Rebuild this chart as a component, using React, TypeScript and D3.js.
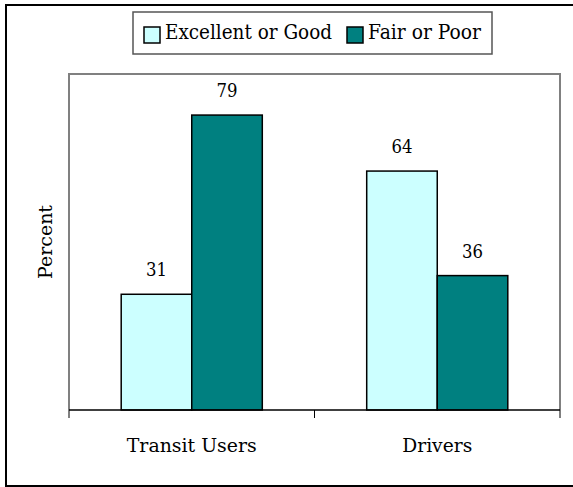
import React from "react";
import * as d3 from "d3";

const categories = ["Transit Users", "Drivers"];
const seriesNames = ["Excellent or Good", "Fair or Poor"];
const excellentOrGood = [31, 64];
const fairOrPoor = [79, 36];
const yDomain = [0, 90];

const W = 573;
const H = 487;
const plot = { left: 69, right: 560, top: 74, bottom: 410 };
const colors = ["#CCFFFF", "#008080"];
const serif = "DejaVu Serif, serif";
const categoryLabelWidths = [130, 70];
const legendTextWidths = [167, 113];

export default function App() {
  const x0 = d3
    .scaleBand<string>()
    .domain(categories)
    .range([plot.left, plot.right])
    .paddingInner(0)
    .paddingOuter(0);
  const inner = d3
    .scaleBand<string>()
    .domain(seriesNames)
    .range([0, x0.bandwidth()])
    .paddingInner(0)
    .paddingOuter(0.74);
  const y = d3.scaleLinear().domain(yDomain).range([plot.bottom, plot.top]);
  const values = [excellentOrGood, fairOrPoor];

  const tickXs = [plot.left, ...categories.map((c) => (x0(c) as number) + x0.bandwidth())];

  return (
    <div style={{ position: "absolute", left: 0, top: 0, overflow: "hidden", width: W, height: H }}>
      <svg width={W} height={H} style={{ display: "block" }}>
        <rect x={0} y={0} width={W} height={H} fill="#fff" />
        {/* outer frame */}
        <path d={`M6,${H + 2} L6,5 L${W + 2},5`} fill="none" stroke="#000" strokeWidth={2} />
        <line x1={6} y1={486} x2={W} y2={486} stroke="#000" strokeWidth={2} />
        {/* plot area border */}
        <path
          d={`M${plot.left},${plot.bottom} L${plot.left},${plot.top} L${plot.right},${plot.top} L${plot.right},${plot.bottom}`}
          fill="none"
          stroke="#808080"
          strokeWidth={2}
        />
        {/* bars and value labels */}
        {categories.map((c, ci) =>
          seriesNames.map((s, si) => {
            const v = values[si][ci];
            const bx = (x0(c) as number) + (inner(s) as number);
            return (
              <g key={c + s}>
                <rect
                  x={bx}
                  y={y(v)}
                  width={inner.bandwidth()}
                  height={plot.bottom - y(v)}
                  fill={colors[si]}
                  stroke="#000"
                  strokeWidth={1.5}
                />
                <text
                  x={bx + inner.bandwidth() / 2}
                  y={y(v) - 18}
                  textAnchor="middle"
                  fontFamily={serif}
                  fontSize={19}
                  textLength={21}
                  lengthAdjust="spacingAndGlyphs"
                  fill="#000"
                >
                  {v}
                </text>
              </g>
            );
          })
        )}
        {/* x axis */}
        <line x1={plot.left} y1={plot.bottom} x2={plot.right} y2={plot.bottom} stroke="#000" strokeWidth={1.5} />
        {tickXs.map((tx, i) => (
          <line key={i} x1={tx} y1={plot.bottom} x2={tx} y2={plot.bottom + 8} stroke="#000" strokeWidth={1} />
        ))}
        {categories.map((c, i) => (
          <text
            key={c}
            x={(x0(c) as number) + x0.bandwidth() / 2}
            y={452}
            textAnchor="middle"
            fontFamily={serif}
            fontSize={19}
            textLength={categoryLabelWidths[i]}
            lengthAdjust="spacingAndGlyphs"
            fill="#000"
          >
            {c}
          </text>
        ))}
        {/* y title */}
        <text
          transform={`translate(52,${(plot.top + plot.bottom) / 2}) rotate(-90)`}
          textAnchor="middle"
          fontFamily={serif}
          fontSize={19}
          textLength={74}
          lengthAdjust="spacingAndGlyphs"
          fill="#000"
        >
          Percent
        </text>
        {/* legend */}
        <rect x={133} y={12} width={359} height={42} fill="#fff" stroke="#555" strokeWidth={1.5} />
        {seriesNames.map((s, i) => {
          const lx = [144, 347][i];
          return (
            <g key={s}>
              <rect x={lx} y={27} width={16} height={16} fill={colors[i]} stroke="#000" strokeWidth={1.5} />
              <text
                x={lx + 21}
                y={39}
                fontFamily={serif}
                fontSize={20}
                textLength={legendTextWidths[i]}
                lengthAdjust="spacingAndGlyphs"
                fill="#000"
              >
                {s}
              </text>
            </g>
          );
        })}
      </svg>
    </div>
  );
}
